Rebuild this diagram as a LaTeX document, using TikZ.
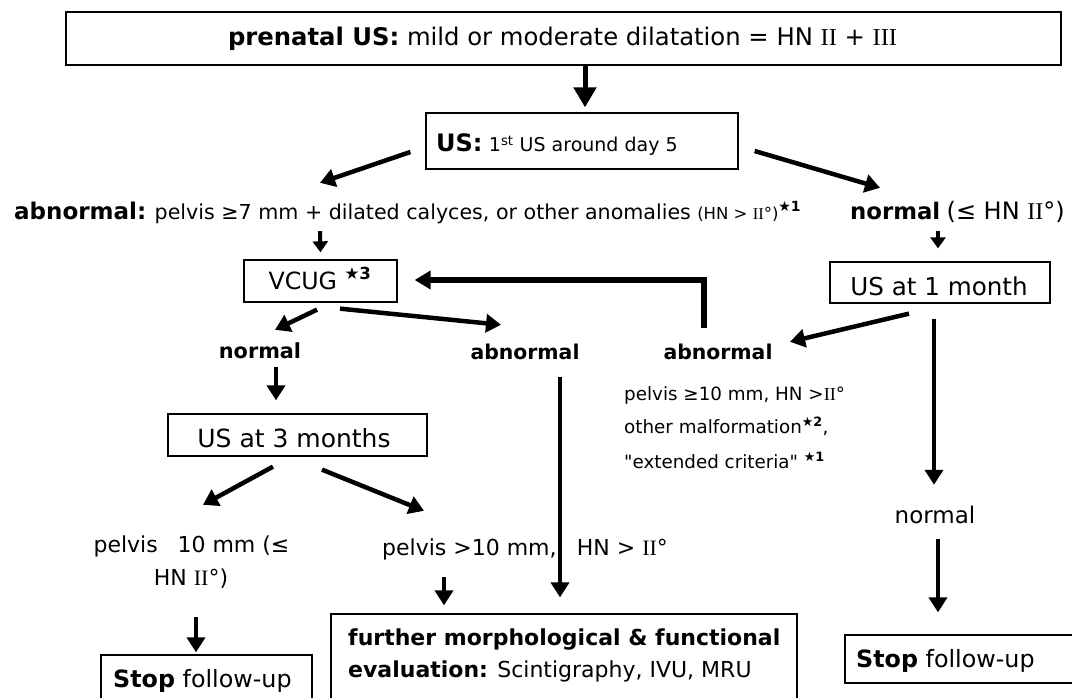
\documentclass[tikz,border=0pt]{standalone}
\usepackage{fontspec}
\setmainfont{DejaVu Sans}
\newfontfamily\romfont{Liberation Serif}
\newfontfamily\qfont[Ligatures=ResetAll]{DejaVu Sans}
\usetikzlibrary{arrows.meta}
\newcommand\rn[1]{{\romfont #1}}
\newcommand\stsup[1]{\textsuperscript{\textbf{★#1}}}
\newcommand\fs[1]{\fontsize{#1}{#1}\selectfont}
\tikzset{
  boxnode/.style={draw, line width=1.3pt, inner sep=0pt},
  lbl/.style={inner sep=0pt, text height=14pt, text depth=4pt, font=\fs{20}},
  arrbig/.style={line width=5pt, -{Triangle[length=20pt,width=22pt]}},
  arrmid/.style={line width=4.5pt, -{Triangle[length=15pt,width=18pt]}},
  arrsm/.style={line width=4pt, -{Triangle[length=11pt,width=15pt]}},
}
\begin{document}
\begin{tikzpicture}[x=1pt,y=-1pt]
\clip (0,0) rectangle (1072,698);
\fill[white] (0,0) rectangle (1072,698);

% boxes
\node[boxnode, minimum width=995pt, minimum height=53pt] (top) at (563.5,38.5) {};
\node[boxnode, minimum width=312pt, minimum height=56pt] (us) at (582,141) {};
\node[boxnode, minimum width=153pt, minimum height=42pt] (vcug) at (320.5,281) {};
\node[boxnode, minimum width=220pt, minimum height=41pt] (us1) at (940,282.5) {};
\node[boxnode, minimum width=259pt, minimum height=42pt] (us3) at (297.5,435) {};
\node[boxnode, minimum width=466pt, minimum height=106pt] (further) at (564,667) {};
\node[boxnode, minimum width=211pt, minimum height=65pt] (stopL) at (206.5,687.5) {};
\node[boxnode, minimum width=240pt, minimum height=48pt] (stopR) at (965,659) {};

% texts
\node[lbl, font=\fs{24.3}] (toptext) at (562.5,41) {\textbf{prenatal US:} mild or moderate dilatation = HN \rn{II} + \rn{III}};
\node[lbl, anchor=west] (ustext) at (436,147) {{\fs{24}\textbf{US:}} {\fs{19}1\textsuperscript{st} US around day 5}};
\node[lbl, anchor=west] (abnl) at (14,214) {{\fs{23}\textbf{abnormal:}} {\fs{20.6}pelvis ≥7 mm + dilated calyces, or other anomalies} {\fs{16.5}(HN > \rn{II}°)}\stsup{1}};
\node[lbl, anchor=west] (norm1) at (850,214) {{\fs{22.8}\textbf{normal}} {\fs{24}(≤ HN \rn{II}°)}};
\node[lbl, font=\fs{23.7}] (vcugtext) at (320,284) {VCUG \stsup{3}};
\node[lbl, font=\fs{24.6}] (us1text) at (939,290) {US at 1 month};
\node[lbl, font=\fs{20.8}\bfseries] (normL) at (260,353) {normal};
\node[lbl, font=\fs{20.4}\bfseries] (abnM) at (525,354) {abnormal};
\node[lbl, font=\fs{20.4}\bfseries] (abnR) at (718,354) {abnormal};
\node[lbl, anchor=west, font=\fs{18.3}] (d1) at (624,395) {pelvis ≥10 mm, HN >\rn{II}°};
\node[lbl, anchor=west, font=\fs{18.3}] (d2) at (624,428) {other malformation\stsup{2},};
\node[lbl, anchor=west, font=\fs{18.3}] (d3) at (624,463) {{\qfont "}extended criteria{\qfont "} \stsup{1}};
\node[lbl, font=\fs{25}] (us3text) at (294,442) {US at 3 months};
\node[lbl, font=\fs{22}] (pelvL1) at (191.5,547) {pelvis\hspace{0.9em}10 mm (≤};
\node[lbl, font=\fs{22}] (pelvL2) at (191,580) {HN \rn{II}°)};
\node[lbl, anchor=west, font=\fs{22}] (pelvR) at (382,550) {pelvis >10 mm,\hspace{0.6em} HN > \rn{II}°};
\node[lbl, anchor=west, font=\fs{22}] (f1) at (348,640) {\textbf{further morphological \& functional}};
\node[lbl, anchor=west, font=\fs{22}] (f2) at (348,672) {\textbf{evaluation:} Scintigraphy, IVU, MRU};
\node[lbl, anchor=west, font=\fs{23.8}] (sL) at (113,682) {\textbf{Stop} follow-up};
\node[lbl, font=\fs{23}] (normR) at (935,518) {normal};
\node[lbl, anchor=west, font=\fs{23.8}] (sR) at (856,662) {\textbf{Stop} follow-up};

% connectors
\draw[arrbig] ([xshift=21.5pt]top.south) -- ([xshift=3pt,yshift=5pt]us.north);
\draw[arrmid] ([xshift=-15pt,yshift=-11pt]us.west) -- ([xshift=306pt,yshift=22pt]abnl.north west);
\draw[arrmid] ([xshift=16pt,yshift=-10pt]us.east) -- ([xshift=30pt,yshift=17pt]norm1.north west);
\draw[arrsm] ([xshift=306pt,yshift=-8pt]abnl.south west) -- ([yshift=7pt]vcug.north);
\draw[arrsm] ([xshift=88pt,yshift=-8pt]norm1.south west) -- ([xshift=-2pt,yshift=13pt]us1.north);
\draw[line width=6pt, -{Triangle[length=16pt,width=18pt]}] ([xshift=-14pt,yshift=17pt]abnR.north) |- ([xshift=17pt,yshift=1pt]vcug.east);
\draw[arrmid] ([xshift=-3.5pt,yshift=-7pt]vcug.south) -- ([xshift=15pt,yshift=14pt]normL.north);
\draw[arrmid] ([xshift=19.5pt,yshift=-6pt]vcug.south) -- ([xshift=-24pt,yshift=20pt]abnM.north);
\draw[arrmid] ([xshift=16pt,yshift=-5pt]normL.south) -- ([xshift=-21.5pt,yshift=13pt]us3.north);
\draw[arrmid] ([xshift=-24.5pt,yshift=-10pt]us3.south) -- ([xshift=11.5pt,yshift=33pt]pelvL1.north);
\draw[arrmid] ([xshift=24.5pt,yshift=-13pt]us3.south) -- ([xshift=42pt,yshift=30pt]pelvR.north west);
\draw[arrmid] ([xshift=62pt,yshift=-18pt]pelvR.south west) -- ([xshift=-120pt,yshift=8pt]further.north);
\draw[arrmid] ([xshift=35pt,yshift=-14pt]abnM.south) -- ([xshift=-4pt,yshift=16pt]further.north);
\draw[arrmid] ([xshift=5pt,yshift=-28pt]pelvL2.south) -- ([xshift=-10.5pt,yshift=2pt]stopL.north);
\draw[arrmid] ([xshift=-31pt,yshift=-10pt]us1.south) -- ([xshift=72pt,yshift=3pt]abnR.north);
\draw[arrmid] ([xshift=-6pt,yshift=-15pt]us1.south) -- ([xshift=-1pt,yshift=24pt]normR.north);
\draw[arrmid] ([xshift=3pt,yshift=-12pt]normR.south) -- ([xshift=-27pt,yshift=22pt]stopR.north);
\end{tikzpicture}
\end{document}
